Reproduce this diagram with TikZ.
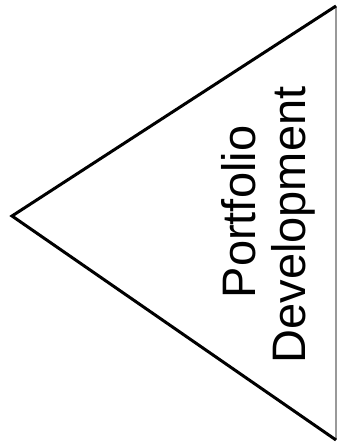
\documentclass[tikz,border=0pt]{standalone}
\usepackage{fontspec}
\setmainfont{Liberation Sans}
\tikzset{
  edge/.style={line width=3pt, line join=miter},
  rim/.style={draw=gray!80, line width=1.2pt},
  label/.style={rotate=90, anchor=base, inner sep=0pt, font=\fontsize{47}{52}\selectfont}
}
\begin{document}
\begin{tikzpicture}[x=1pt, y=1pt]
    % frame = reference size 338 x 444
    \useasboundingbox (0,0) rectangle (338,444);
    \coordinate (apex) at (12,228);
    \coordinate (top) at (336,438);
    \coordinate (bottom) at (336,4);
    \draw[rim] (top) -- (bottom);
    \draw[edge] (top) -- (apex) -- (bottom);
    \node[label] (portfolio) at (255,232) {Portfolio};
    \node[label] (development) at (305,219) {Development};
  \end{tikzpicture}
\end{document}
